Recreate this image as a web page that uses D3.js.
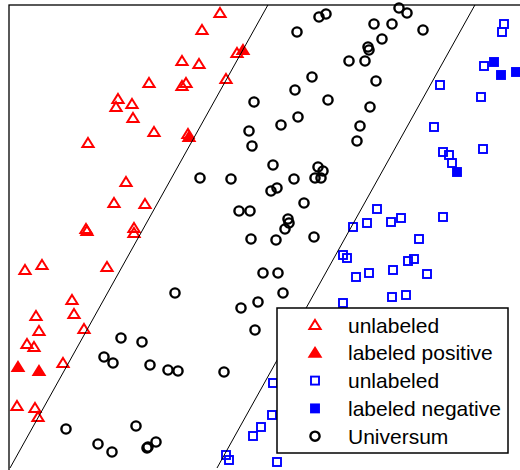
<!DOCTYPE html>
<meta charset="utf-8">
<style>
    body { margin: 0; background: #fff; }
    svg { display: block; }
    .legend-label { font-family: "Liberation Sans", Arial, sans-serif; font-size: 21px; fill: #000; }
</style>
<script src="https://cdn.jsdelivr.net/npm/d3@7"></script>
<svg width="520" height="470"></svg>
<script>

    // red class, unlabeled / labeled positive
    var posUnlabeled = [
        [2.11, 4.55], [1.93, 4.38], [2.28, 4.15], [1.73, 4.07], [1.90, 4.04], [2.17, 3.89],
        [1.40, 3.85], [1.77, 3.85], [1.73, 3.82], [1.09, 3.69], [1.23, 3.64], [1.07, 3.61],
        [1.24, 3.50], [1.45, 3.36], [1.79, 3.34], [0.79, 3.25], [1.17, 2.86], [1.05, 2.65],
        [1.36, 2.64], [0.77, 2.39], [0.78, 2.37], [1.25, 2.40], [1.25, 2.35], [0.16, 1.98],
        [0.33, 2.03], [0.98, 2.01], [0.63, 1.68], [0.27, 1.52], [0.65, 1.54], [0.30, 1.37],
        [0.18, 1.24], [0.25, 1.21], [0.75, 1.39], [0.54, 1.05], [0.08, 0.62], [0.26, 0.60],
        [0.29, 0.51]
    ];
    var posLabeled = [[2.34, 4.18], [1.80, 3.31], [0.09, 1.01], [0.30, 0.97]];

    // blue class, unlabeled / labeled negative
    var negUnlabeled = [
        [4.95, 4.44], [4.93, 4.36], [4.75, 4.02], [4.31, 3.83], [4.72, 3.71], [4.25, 3.41],
        [4.34, 3.16], [4.40, 3.13], [4.43, 3.05], [4.74, 3.19], [3.68, 2.59], [3.58, 2.45],
        [3.82, 2.46], [3.92, 2.50], [3.44, 2.41], [4.34, 2.51], [4.10, 2.29], [3.34, 2.13],
        [3.38, 2.10], [3.47, 1.91], [3.60, 1.95], [3.84, 1.98], [3.99, 2.07], [4.05, 2.09],
        [4.18, 1.94], [3.83, 1.71], [3.97, 1.73], [3.34, 1.65], [2.64, 0.85], [2.63, 0.53],
        [2.52, 0.41], [2.44, 0.32], [2.17, 0.13], [2.20, 0.08], [2.68, 0.06]
    ];
    var negLabeled = [[4.85, 4.06], [4.92, 3.93], [5.07, 3.96], [4.48, 2.96]];

    var universum = [
        [2.45, 3.66], [2.40, 3.37], [2.43, 3.22], [1.91, 2.90], [2.22, 2.89], [2.30, 2.57],
        [2.41, 2.57], [2.42, 2.29], [2.54, 1.95], [2.69, 1.95], [2.74, 1.75], [2.49, 1.66],
        [2.32, 1.60], [2.46, 1.38], [1.66, 1.75], [1.12, 1.30], [1.33, 1.26], [0.95, 1.11],
        [1.04, 1.05], [1.41, 1.03], [1.59, 0.98], [1.69, 0.97], [2.15, 0.96], [0.57, 0.39],
        [1.27, 0.42], [0.89, 0.24], [1.03, 0.16], [1.39, 0.21], [1.47, 0.26], [1.38, 0.20],
        [3.90, 4.60], [3.98, 4.55], [3.10, 4.51], [3.17, 4.54], [2.88, 4.36], [3.65, 4.44],
        [3.83, 4.44], [4.14, 4.38], [3.73, 4.29], [3.59, 4.21], [3.60, 4.18], [3.40, 4.07],
        [3.56, 4.07], [3.03, 3.91], [3.67, 3.87], [2.86, 3.78], [3.19, 3.68], [3.61, 3.61],
        [2.89, 3.51], [2.72, 3.43], [3.51, 3.42], [3.48, 3.27], [2.64, 3.03], [3.09, 3.01],
        [3.14, 2.97], [3.06, 2.90], [3.12, 2.90], [2.85, 2.89], [2.62, 2.77], [2.68, 2.80],
        [2.95, 2.65], [2.79, 2.49], [2.80, 2.45], [2.76, 2.39], [2.67, 2.28], [3.05, 2.31]
    ];

    // separating lines: x = offset + slope * y
    var lineOffsets = [0.01, 2.08];
    var lineSlope = 0.557;

    var legendLabels = ["unlabeled", "labeled positive", "unlabeled", "labeled negative", "Universum"];

    var svg = d3.select("svg"),
        margin = {top: 5, left: 9},
        x = d3.scaleLinear().domain([0, 5.11]).range([margin.left, 520]),
        y = d3.scaleLinear().domain([0, 4.63]).range([468, margin.top]);

    var triPath = "M0,-5L5.6,4L-5.6,4Z";

    function drawTriangles(data, filled) {
        svg.append("g").selectAll("path")
            .data(data)
            .enter().append("path")
            .attr("d", triPath)
            .attr("transform", function (d) { return "translate(" + x(d[0]) + "," + y(d[1]) + ")"; })
            .attr("fill", filled ? "#ff0000" : "none")
            .attr("stroke", "#ff0000")
            .attr("stroke-width", 2);
    }

    function drawSquares(data, filled) {
        svg.append("g").selectAll("rect")
            .data(data)
            .enter().append("rect")
            .attr("x", function (d) { return x(d[0]) - 4; })
            .attr("y", function (d) { return y(d[1]) - 4; })
            .attr("width", 8)
            .attr("height", 8)
            .attr("fill", filled ? "#0000ff" : "none")
            .attr("stroke", "#0000ff")
            .attr("stroke-width", 1.9);
    }

    drawTriangles(posUnlabeled, false);
    drawTriangles(posLabeled, true);
    drawSquares(negUnlabeled, false);
    drawSquares(negLabeled, true);

    svg.append("g").selectAll("circle")
        .data(universum)
        .enter().append("circle")
        .attr("cx", function (d) { return x(d[0]); })
        .attr("cy", function (d) { return y(d[1]); })
        .attr("r", 4.6)
        .attr("fill", "none")
        .attr("stroke", "#000")
        .attr("stroke-width", 2.4);

    svg.append("g").selectAll("line")
        .data(lineOffsets)
        .enter().append("line")
        .attr("x1", function (d) { return x(d); })
        .attr("y1", y(0))
        .attr("x2", function (d) { return x(d + lineSlope * 4.63); })
        .attr("y2", y(4.63))
        .attr("stroke", "#000")
        .attr("stroke-width", 1);

    // axes box (right and bottom run off the picture)
    svg.append("rect")
        .attr("x", margin.left)
        .attr("y", margin.top)
        .attr("width", 700)
        .attr("height", 700)
        .attr("fill", "none")
        .attr("stroke", "#000")
        .attr("stroke-width", 1.3);

    // legend
    var lg = svg.append("g").attr("transform", "translate(277,308)");
    lg.append("rect")
        .attr("width", 231)
        .attr("height", 145)
        .attr("fill", "#fff")
        .attr("stroke", "#000")
        .attr("stroke-width", 1.5);

    var rows = lg.selectAll(".row")
        .data(legendLabels)
        .enter().append("g")
        .attr("class", "row")
        .attr("transform", function (d, i) { return "translate(38," + (17 + i * 27.8) + ")"; });

    rows.each(function (d, i) {
        var g = d3.select(this);
        if (i < 2) {
            g.append("path").attr("d", triPath)
                .attr("fill", i === 1 ? "#ff0000" : "none")
                .attr("stroke", "#ff0000").attr("stroke-width", 2);
        } else if (i < 4) {
            g.append("rect").attr("x", -4).attr("y", -4).attr("width", 8).attr("height", 8)
                .attr("fill", i === 3 ? "#0000ff" : "none")
                .attr("stroke", "#0000ff").attr("stroke-width", 1.9);
        } else {
            g.append("circle").attr("r", 4.6)
                .attr("fill", "none").attr("stroke", "#000").attr("stroke-width", 2.4);
        }
        g.append("text")
            .attr("class", "legend-label")
            .attr("x", 33)
            .attr("dy", "0.36em")
            .text(d);
    });

</script>
